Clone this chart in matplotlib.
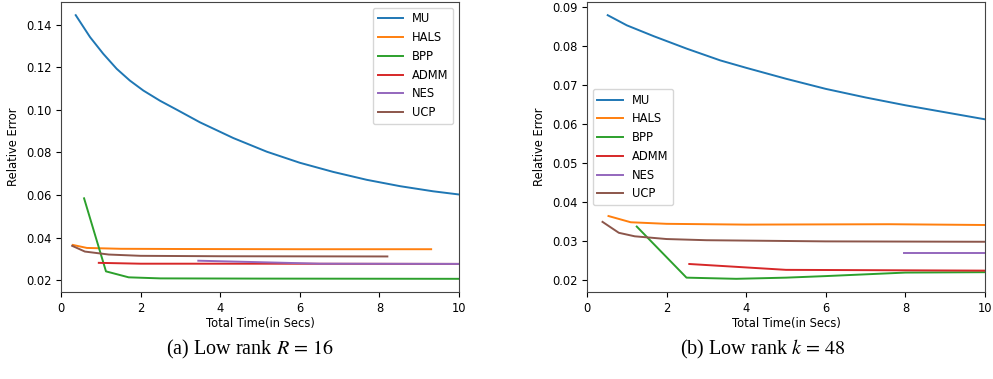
import matplotlib
matplotlib.use("Agg")
import matplotlib.pyplot as plt

# ---- data: panel (a), low rank R = 16 ----
a_mu_x = [0.37, 0.73, 1.06, 1.40, 1.73, 2.07, 2.49, 2.91, 3.49, 4.33, 5.17,
          6.0, 6.84, 7.68, 8.52, 9.35, 10.0]
a_mu_y = [0.1444, 0.1341, 0.1263, 0.1192, 0.1137, 0.1090, 0.1042, 0.1000, 0.0941,
          0.0867, 0.0803, 0.0751, 0.0708, 0.0671, 0.0641, 0.0617, 0.0602]
a_hals_x = [0.3, 0.65, 1.5, 3, 6, 9.3]
a_hals_y = [0.0365, 0.0351, 0.0347, 0.0346, 0.0345, 0.0345]
a_bpp_x = [0.58, 1.13, 1.7, 2.5, 5, 10]
a_bpp_y = [0.0584, 0.0241, 0.0213, 0.0208, 0.0207, 0.0206]
a_admm_x = [0.95, 2, 5, 10]
a_admm_y = [0.0281, 0.0277, 0.0277, 0.0276]
a_nes_x = [3.45, 5, 6.5, 10]
a_nes_y = [0.0291, 0.0284, 0.0277, 0.0276]
a_ucp_x = [0.28, 0.6, 1.2, 2, 4, 8.2]
a_ucp_y = [0.0361, 0.0334, 0.0320, 0.0314, 0.0312, 0.0311]

# ---- data: panel (b), low rank k = 48 ----
b_mu_x = [0.52, 1, 1.68, 2.51, 3.35, 4, 5, 6, 7, 8, 9, 10]
b_mu_y = [0.0879, 0.0853, 0.0825, 0.0793, 0.0763, 0.0744, 0.0716,
          0.0690, 0.0668, 0.0648, 0.0630, 0.0612]
b_hals_x = [0.54, 1.1, 2, 4, 7.6, 10]
b_hals_y = [0.0364, 0.0348, 0.0344, 0.0342, 0.0343, 0.0341]
b_bpp_x = [1.25, 2.5, 3.75, 5, 6, 8, 10]
b_bpp_y = [0.0337, 0.0206, 0.0203, 0.0206, 0.0210, 0.0219, 0.0220]
b_admm_x = [2.57, 5, 10]
b_admm_y = [0.0241, 0.0226, 0.0224]
b_nes_x = [7.97, 10]
b_nes_y = [0.0270, 0.0270]
b_ucp_x = [0.39, 0.8, 1.2, 2, 3, 6, 10]
b_ucp_y = [0.0349, 0.0321, 0.0312, 0.0305, 0.0302, 0.0299, 0.0298]

labels = ["MU", "HALS", "BPP", "ADMM", "NES", "UCP"]
colors = ["#1f77b4", "#ff7f0e", "#2ca02c", "#d62728", "#9467bd", "#8c564b"]

panels = [
    [(a_mu_x, a_mu_y), (a_hals_x, a_hals_y), (a_bpp_x, a_bpp_y),
     (a_admm_x, a_admm_y), (a_nes_x, a_nes_y), (a_ucp_x, a_ucp_y)],
    [(b_mu_x, b_mu_y), (b_hals_x, b_hals_y), (b_bpp_x, b_bpp_y),
     (b_admm_x, b_admm_y), (b_nes_x, b_nes_y), (b_ucp_x, b_ucp_y)],
]

plt.rcParams["font.size"] = 8.3
plt.rcParams["mathtext.fontset"] = "stix"

fig = plt.figure(figsize=(9.93, 3.79), dpi=100)
W, H = 993.0, 379.0
ax1 = fig.add_axes([61 / W, 1 - 292 / H, 398 / W, 290 / H])
ax2 = fig.add_axes([587 / W, 1 - 292 / H, 398 / W, 290 / H])

for ax, series, loc in [(ax1, panels[0], "upper right"), (ax2, panels[1], "center left")]:
    for (x, y), lab, c in zip(series, labels, colors):
        ax.plot(x, y, color=c, lw=1.4, label=lab)
    ax.set_xlim(0, 10)
    ax.set_xticks([0, 2, 4, 6, 8, 10])
    ax.set_xlabel("Total Time(in Secs)", labelpad=2)
    ax.set_ylabel("Relative Error")
    ax.legend(loc=loc, fontsize=8.3, handlelength=2.2)
    for s in ax.spines.values():
        s.set_color("#444444")

ax1.set_yticks([0.02, 0.04, 0.06, 0.08, 0.10, 0.12, 0.14])
ax2.set_yticks([0.02, 0.03, 0.04, 0.05, 0.06, 0.07, 0.08, 0.09])

fig.text(250 / W, 1 - 349 / H, r"(a) Low rank $R\,=\,16$", ha="center", va="center",
         fontsize=14.5, family="Liberation Serif")
fig.text(763 / W, 1 - 349 / H, r"(b) Low rank $k\,=\,48$", ha="center", va="center",
         fontsize=14.5, family="Liberation Serif")

fig.savefig("out.png", dpi=100)
